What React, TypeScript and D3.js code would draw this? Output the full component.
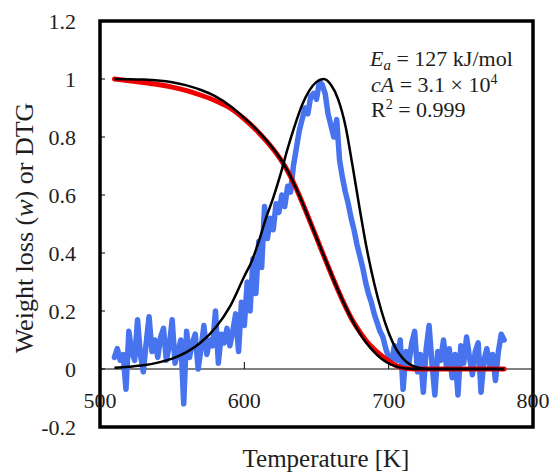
import React from "react";
import * as d3 from "d3";

// ---- data ----
const dtgT = [510, 520, 530, 540, 550, 560, 570, 580, 590, 600, 605, 610, 615, 620, 625, 630, 635, 640, 645, 650, 655, 660, 665, 670, 675, 680, 685, 690, 695, 700, 705, 710, 715, 720, 725, 730, 740, 750, 760, 770, 780];
const modelDTG = [0.004, 0.008, 0.013, 0.022, 0.036, 0.058, 0.092, 0.142, 0.215, 0.32, 0.37, 0.44, 0.52, 0.59, 0.67, 0.76, 0.84, 0.91, 0.96, 0.99, 1.0, 0.98, 0.93, 0.84, 0.70, 0.55, 0.41, 0.295, 0.20, 0.125, 0.07, 0.036, 0.015, 0.005, 0.001, 0, 0, 0, 0, 0, 0];

const wT = [510, 520, 530, 540, 550, 560, 570, 580, 590, 600, 610, 620, 625, 630, 635, 640, 645, 650, 655, 660, 665, 670, 675, 680, 685, 690, 695, 700, 705, 710, 715, 720, 730, 740, 750, 760, 770, 780];
const modelW = [1.0, 0.9995, 0.998, 0.995, 0.989, 0.978, 0.962, 0.94, 0.908, 0.866, 0.818, 0.76, 0.725, 0.683, 0.633, 0.576, 0.515, 0.453, 0.391, 0.33, 0.271, 0.216, 0.166, 0.123, 0.087, 0.058, 0.035, 0.019, 0.009, 0.003, 0.001, 0, 0, 0, 0, 0, 0, 0];
const expW = [1.0, 0.994, 0.988, 0.981, 0.972, 0.96, 0.944, 0.925, 0.9, 0.862, 0.815, 0.758, 0.724, 0.683, 0.633, 0.576, 0.515, 0.453, 0.391, 0.33, 0.271, 0.216, 0.167, 0.128, 0.094, 0.068, 0.046, 0.028, 0.012, 0.004, 0.001, 0, 0, 0, 0, 0, 0, 0];

const expT = d3.range(510, 781, 2);
const expDTG = [
  0.04, 0.07, 0.03, 0.05, -0.07, 0.13, 0.06, 0.03, 0.17, 0.05,
  -0.01, 0.09, 0.18, 0.06, 0.10, 0.04, 0.11, 0.14, 0.03, 0.08,
  0.17, 0.02, 0.06, 0.10, -0.12, 0.13, 0.04, 0.09, 0.12, 0.0,
  0.07, 0.15, 0.05, 0.10, 0.08, 0.20, 0.02, 0.12, 0.09, 0.14,
  0.08, 0.13, 0.19, 0.06, 0.23, 0.15, 0.30, 0.20, 0.38, 0.26,
  0.44, 0.35, 0.56, 0.45, 0.52, 0.48, 0.57, 0.54, 0.60, 0.56,
  0.63, 0.61, 0.70, 0.76, 0.82, 0.86, 0.90, 0.88, 0.94, 0.95,
  0.93, 0.99, 0.98, 0.95, 0.88, 0.84, 0.80, 0.86, 0.72, 0.66,
  0.61, 0.57, 0.52, 0.48, 0.43, 0.39, 0.35, 0.30, 0.26, 0.23,
  0.19, 0.16, 0.13, 0.11, 0.07, 0.04, 0.02, 0.08, 0.03, 0.10,
  -0.07, 0.06, 0.02, 0.09, 0.13, -0.01, 0.05, -0.08, 0.07, 0.15,
  0.02, -0.09, 0.06, 0.03, 0.10, 0.01, 0.07, -0.03, 0.05, -0.09,
  0.08, 0.02, 0.11, 0.04, -0.02, 0.06, 0.09, -0.08, 0.03, 0.07,
  0.01, 0.05, -0.04, 0.06, 0.12, 0.10,
];

const xTicks = [500, 600, 700, 800];
const yTicks = [-0.2, 0, 0.2, 0.4, 0.6, 0.8, 1, 1.2];

const FONT = "'Liberation Serif', 'Times New Roman', serif";
const TXT = "#1e1e1e";

export default function App() {
  const left = 100, right = 533, top = 21, bottom = 427;
  const x = d3.scaleLinear().domain([500, 800]).range([left, right]);
  const y = d3.scaleLinear().domain([-0.2, 1.2]).range([bottom, top]);

  const smooth = d3
    .line<[number, number]>()
    .x((d) => x(d[0]))
    .y((d) => y(d[1]))
    .curve(d3.curveMonotoneX);
  const raw = d3
    .line<[number, number]>()
    .x((d) => x(d[0]))
    .y((d) => y(d[1]));

  const zip = (a: number[], b: number[]) => a.map((t, i) => [t, b[i]] as [number, number]);

  return (
    <svg
      width={555}
      height={473}
      style={{ position: "absolute", left: 0, top: 0, background: "#fff" }}
      fontFamily={FONT}
    >
      <rect x={0} y={0} width={555} height={473} fill="#fff" />
      {/* zero line */}
      <line x1={left} x2={right} y1={y(0)} y2={y(0)} stroke="#000" strokeWidth={1} />
      {xTicks.map((t) => (
        <line key={"xt" + t} x1={x(t)} x2={x(t)} y1={y(0)} y2={y(0) - 7} stroke="#000" strokeWidth={1} />
      ))}
      {yTicks.map((t) => (
        <line key={"yt" + t} x1={left} x2={left + 5} y1={y(t)} y2={y(t)} stroke="#000" strokeWidth={1} />
      ))}

      {/* data */}
      <path d={raw(zip(expT, expDTG)) || ""} fill="none" stroke="#4774ee" strokeWidth={5.5} strokeLinejoin="round" strokeLinecap="round" />
      <path d={smooth(zip(wT, expW)) || ""} fill="none" stroke="#f00000" strokeWidth={5} strokeLinecap="round" />
      <path d={smooth(zip(wT, modelW)) || ""} fill="none" stroke="#000" strokeWidth={2.5} />
      <path d={smooth(zip(dtgT, modelDTG)) || ""} fill="none" stroke="#000" strokeWidth={2.5} />

      {/* frame */}
      <rect x={left} y={top} width={right - left} height={bottom - top} fill="none" stroke="#000" strokeWidth={3.5} />

      {/* tick labels */}
      {xTicks.map((t) => (
        <text key={"xl" + t} x={x(t)} y={408} textAnchor="middle" fontSize={22} fill={TXT}>
          {t}
        </text>
      ))}
      {yTicks.map((t) => (
        <text key={"yl" + t} x={76} y={y(t) + 7.5} textAnchor="end" fontSize={22} fill={TXT}>
          {t}
        </text>
      ))}

      {/* axis titles */}
      <text x={326} y={467} textAnchor="middle" fontSize={25} fill={TXT}>
        Temperature [K]
      </text>
      <text transform={`translate(33, 228) rotate(-90)`} textAnchor="middle" fontSize={26} fill={TXT}>
        Weight loss (<tspan fontStyle="italic">w</tspan>) or DTG
      </text>

      {/* annotation */}
      <text x={370} y={66} fontSize={22} fill={TXT}>
        <tspan fontStyle="italic">E</tspan>
        <tspan fontStyle="italic" fontSize={15} dy={4}>a</tspan>
        <tspan dy={-4}> = 127 kJ/mol</tspan>
      </text>
      <text x={371} y={91.5} fontSize={22} fill={TXT}>
        <tspan fontStyle="italic">cA</tspan>
        <tspan> = 3.1 × 10</tspan>
        <tspan fontSize={14} dy={-8}>4</tspan>
      </text>
      <text x={371} y={117} fontSize={22} fill={TXT}>
        <tspan>R</tspan>
        <tspan fontSize={14} dy={-8}>2</tspan>
        <tspan dy={8}> = 0.999</tspan>
      </text>
    </svg>
  );
}
